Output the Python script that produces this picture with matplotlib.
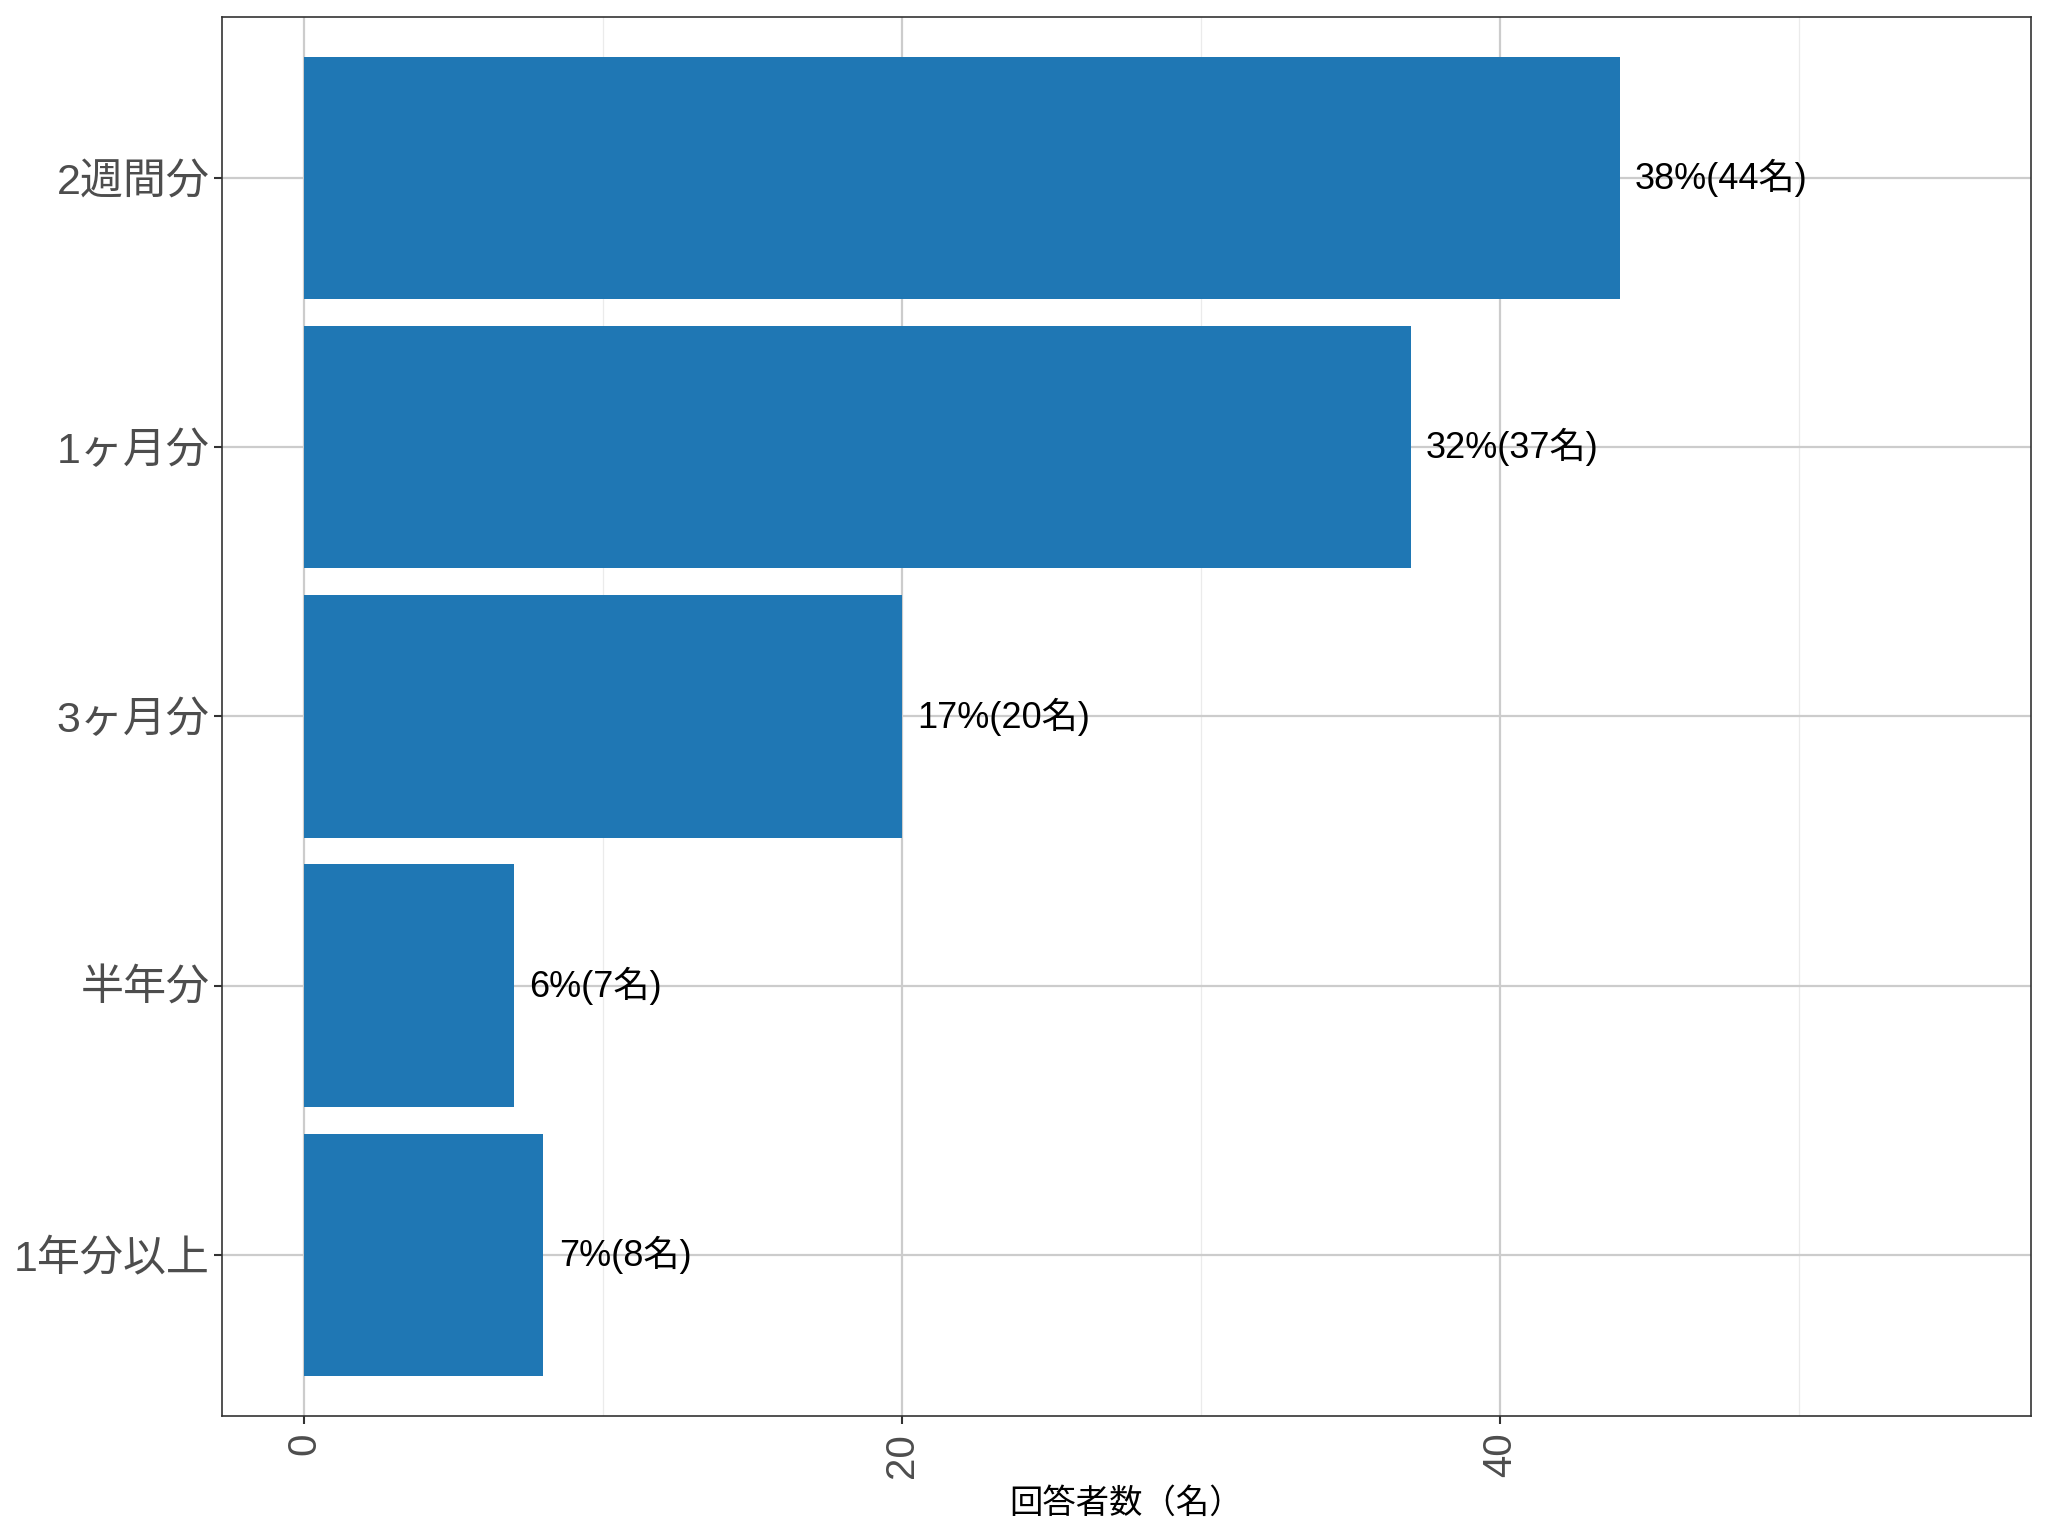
import matplotlib
matplotlib.use('Agg')
from matplotlib import pyplot as plt
from matplotlib.ticker import MultipleLocator

plt.rcParams['font.family'] = ['Liberation Sans', 'Noto Sans CJK JP', 'DejaVu Sans']

# Data (top to bottom)
categories = ['2週間分', '1ヶ月分', '3ヶ月分', '半年分', '1年分以上']
counts = [44, 37, 20, 7, 8]
percents = [38, 32, 17, 6, 7]
x_ticks = [0, 20, 40]
x_label = '回答者数（名）'

bar_color = '#1f77b4'
grid_major = '#cccccc'
grid_minor = '#ebebeb'
frame_color = '#333333'
text_grey = '#4d4d4d'

fig = plt.figure(figsize=(20.48, 15.36), dpi=100)
ax = fig.add_axes([0.1084, 0.0781, 0.8833, 0.9109])

n = len(categories)
ypos = [n - i for i in range(n)]
ax.barh(ypos, counts, height=0.9, color=bar_color, zorder=3)

for y, c, p in zip(ypos, counts, percents):
    ax.annotate(f'{p}%({c}名)', xy=(c, y), xytext=(11, 0),
                textcoords='offset points', ha='left', va='center',
                fontsize=26, color='black', zorder=4)

ax.set_xlim(-2.75, 57.75)
ax.set_ylim(0.4, n + 0.6)
ax.set_yticks(ypos)
ax.set_yticklabels(categories)
ax.set_xticks(x_ticks)
ax.xaxis.set_minor_locator(MultipleLocator(10))

ax.tick_params(axis='y', which='major', labelsize=31, colors=frame_color,
               labelcolor=text_grey, length=6, width=1.5, pad=3)
ax.tick_params(axis='x', which='major', labelsize=29, colors=frame_color,
               labelcolor=text_grey, length=6, width=1.5, pad=6,
               labelrotation=90)
ax.tick_params(axis='x', which='minor', length=0)

ax.grid(True, which='major', color=grid_major, linewidth=1.6, zorder=0)
ax.grid(True, which='minor', axis='x', color=grid_minor, linewidth=0.9, zorder=0)
ax.set_axisbelow(True)

for s in ax.spines.values():
    s.set_color(frame_color)
    s.set_linewidth(1.2)

# axis title sits near the bottom edge
fig.text(0.1084 + 0.8833 / 2, 0.0215, x_label, ha='center', va='center',
         fontsize=24, color='black', family=['Noto Sans CJK JP'])

fig.savefig('out.png', dpi=100, facecolor='white')
